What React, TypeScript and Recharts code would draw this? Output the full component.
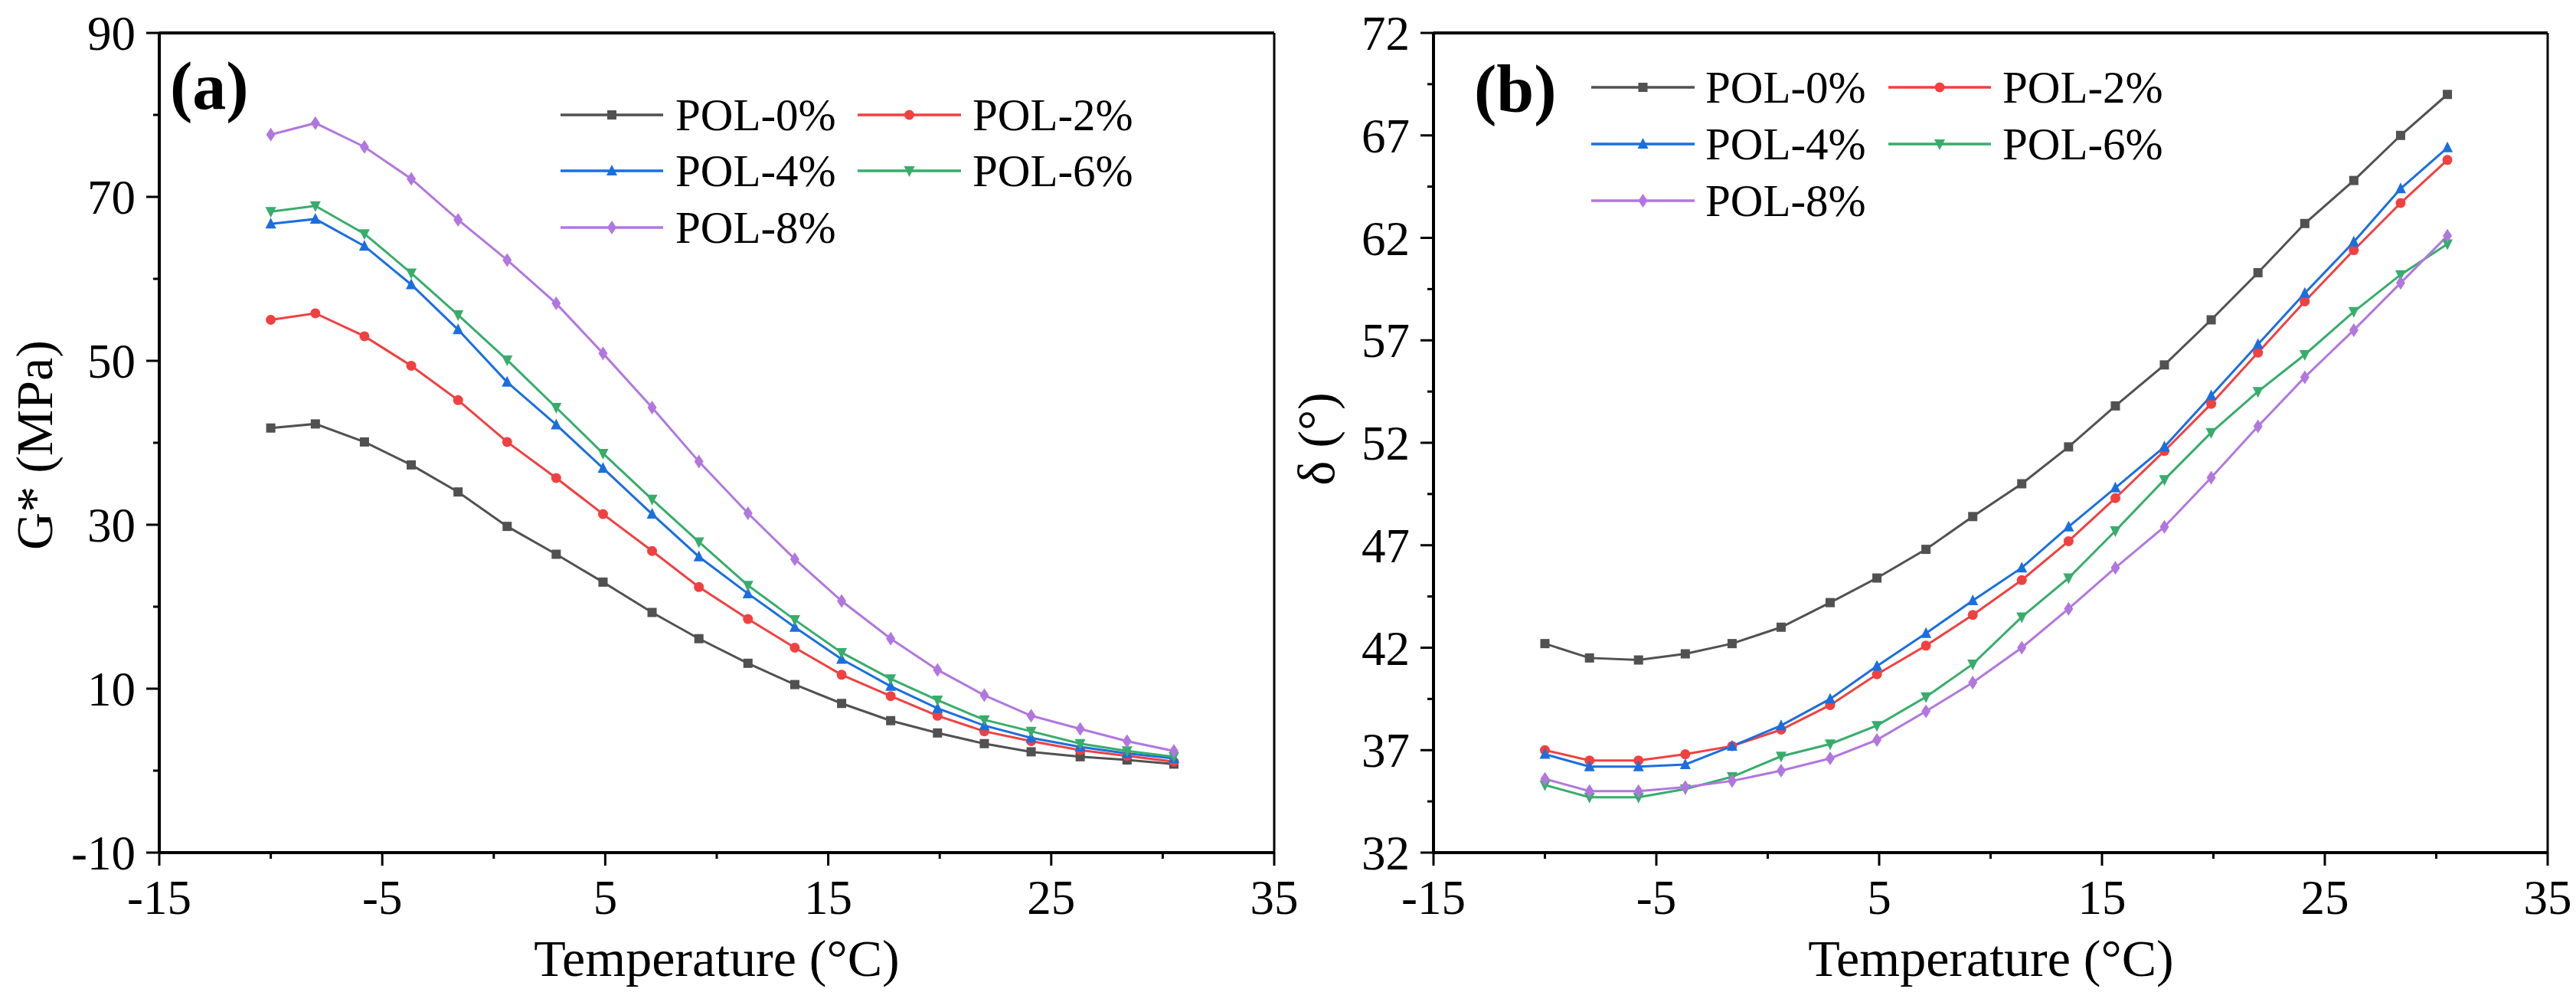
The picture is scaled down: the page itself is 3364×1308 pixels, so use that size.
import React from 'react';
import { LineChart, Line, XAxis, YAxis, ReferenceLine } from 'recharts';

const temps = [-10, -8, -5.8, -3.7, -1.6, 0.6, 2.8, 4.9, 7.1, 9.2, 11.4, 13.5, 15.6, 17.8, 19.9, 22.0, 24.1, 26.3, 28.4, 30.5];

// (a) complex modulus G* (MPa)
const g0 = [41.8, 42.3, 40.1, 37.3, 34.0, 29.8, 26.4, 23.0, 19.3, 16.1, 13.1, 10.5, 8.2, 6.1, 4.6, 3.3, 2.3, 1.7, 1.3, 0.8];
const g2 = [55.0, 55.8, 53.0, 49.4, 45.2, 40.1, 35.7, 31.3, 26.8, 22.4, 18.5, 15.0, 11.7, 9.1, 6.7, 4.8, 3.6, 2.5, 1.8, 1.1];
const g4 = [66.7, 67.3, 64.0, 59.3, 53.8, 47.4, 42.2, 36.9, 31.3, 26.1, 21.6, 17.5, 13.6, 10.3, 7.6, 5.5, 4.0, 2.9, 2.1, 1.5];
const g6 = [68.2, 68.9, 65.5, 60.7, 55.6, 50.1, 44.3, 38.7, 33.1, 27.9, 22.6, 18.4, 14.4, 11.2, 8.6, 6.2, 4.8, 3.3, 2.4, 1.7];
const g8 = [77.6, 79.0, 76.1, 72.2, 67.2, 62.3, 57.0, 50.9, 44.3, 37.7, 31.4, 25.8, 20.7, 16.1, 12.3, 9.2, 6.7, 5.1, 3.6, 2.4];

// (b) phase angle δ (°)
const d0 = [42.2, 41.5, 41.4, 41.7, 42.2, 43.0, 44.2, 45.4, 46.8, 48.4, 50.0, 51.8, 53.8, 55.8, 58.0, 60.3, 62.7, 64.8, 67.0, 69.0];
const d2 = [37.0, 36.5, 36.5, 36.8, 37.2, 38.0, 39.2, 40.7, 42.1, 43.6, 45.3, 47.2, 49.3, 51.6, 53.9, 56.4, 58.9, 61.4, 63.7, 65.8];
const d4 = [36.8, 36.2, 36.2, 36.3, 37.2, 38.2, 39.5, 41.1, 42.7, 44.3, 45.9, 47.9, 49.8, 51.8, 54.3, 56.8, 59.3, 61.8, 64.4, 66.4];
const d6 = [35.3, 34.7, 34.7, 35.1, 35.7, 36.7, 37.3, 38.2, 39.6, 41.2, 43.5, 45.4, 47.7, 50.2, 52.5, 54.5, 56.3, 58.4, 60.2, 61.7];
const d8 = [35.6, 35.0, 35.0, 35.2, 35.5, 36.0, 36.6, 37.5, 38.9, 40.3, 42.0, 43.9, 45.9, 47.9, 50.3, 52.8, 55.2, 57.5, 59.8, 62.1];

const seriesNames = ['POL-0%', 'POL-2%', 'POL-4%', 'POL-6%', 'POL-8%'];
const seriesKeys = ['s0', 's2', 's4', 's6', 's8'];
const colors = ['#515151', '#F14040', '#1A6FDF', '#37AD6B', '#B177DE'];
const shapes = ['square', 'circle', 'up', 'down', 'diamond'];

const xTicks = [-15, -10, -5, 0, 5, 10, 15, 20, 25, 30, 35];
const xMajor = [-15, -5, 5, 15, 25, 35];
const gTicks = [-10, 0, 10, 20, 30, 40, 50, 60, 70, 80, 90];
const gMajor = [-10, 10, 30, 50, 70, 90];
const dTicks = [32, 34.5, 37, 39.5, 42, 44.5, 47, 49.5, 52, 54.5, 57, 59.5, 62, 64.5, 67, 69.5, 72];
const dMajor = [32, 37, 42, 47, 52, 57, 62, 67, 72];

const FONT = '"Liberation Serif", "Times New Roman", serif';

const buildRows = (cols: number[][]) =>
  temps.map((t, i) => {
    const row: any = { t };
    seriesKeys.forEach((k, j) => (row[k] = cols[j][i]));
    return row;
  });

const gRows = buildRows([g0, g2, g4, g6, g8]);
const dRows = buildRows([d0, d2, d4, d6, d8]);

const Marker = ({ shape, x, y, color }: { shape: string; x: number; y: number; color: string }) => {
  if (shape === 'square') return <rect x={x - 6} y={y - 6} width={12} height={12} fill={color} />;
  if (shape === 'circle') return <circle cx={x} cy={y} r={6.5} fill={color} />;
  if (shape === 'up') return <polygon points={`${x},${y - 8} ${x - 7},${y + 6} ${x + 7},${y + 6}`} fill={color} />;
  if (shape === 'down') return <polygon points={`${x},${y + 8} ${x - 7},${y - 6} ${x + 7},${y - 6}`} fill={color} />;
  return <polygon points={`${x},${y - 9} ${x + 6},${y} ${x},${y + 9} ${x - 6},${y}`} fill={color} />;
};

const makeDot = (shape: string, color: string) => (p: any) => {
  if (p.cx == null || p.cy == null) return <g key={p.index} />;
  return (
    <g key={p.index}>
      <Marker shape={shape} x={p.cx} y={p.cy} color={color} />
    </g>
  );
};

const makeXTick = (majors: number[]) => (p: any) => {
  const { x, y, payload } = p;
  const major = majors.includes(payload.value);
  return (
    <g>
      <line x1={x} x2={x} y1={y} y2={y + (major ? 17 : 8)} stroke="#000" strokeWidth={3} />
      {major && (
        <text x={x} y={y + 80} textAnchor="middle" fontSize={63} fontFamily={FONT} fill="#000">
          {payload.value}
        </text>
      )}
    </g>
  );
};

const makeYTick = (majors: number[]) => (p: any) => {
  const { x, y, payload } = p;
  const major = majors.includes(payload.value);
  return (
    <g>
      <line x1={x - (major ? 17 : 8)} x2={x} y1={y} y2={y} stroke="#000" strokeWidth={3} />
      {major && (
        <text x={x - 31} y={y} dy="0.35em" textAnchor="end" fontSize={63} fontFamily={FONT} fill="#000">
          {payload.value}
        </text>
      )}
    </g>
  );
};

interface PanelProps {
  left: number;
  width: number;
  yWidth: number;
  right: number;
  rows: any[];
  domain: [number, number];
  ticks: number[];
  majors: number[];
}

const Panel = ({ left, width, yWidth, right, rows, domain, ticks, majors }: PanelProps) => (
  <div style={{ position: 'absolute', left, top: 0 }}>
    <LineChart width={width} height={1308} data={rows} margin={{ top: 43, right, bottom: 0, left: 0 }}>
      <XAxis
        dataKey="t"
        type="number"
        domain={[-15, 35]}
        ticks={xTicks}
        interval={0}
        height={195}
        tickSize={0}
        tickMargin={0}
        tickLine={false}
        axisLine={{ stroke: '#000', strokeWidth: 4 }}
        tick={makeXTick(xMajor)}
      />
      <YAxis
        type="number"
        domain={domain}
        ticks={ticks}
        interval={0}
        width={yWidth}
        tickSize={0}
        tickMargin={0}
        tickLine={false}
        axisLine={{ stroke: '#000', strokeWidth: 4 }}
        tick={makeYTick(majors)}
      />
      <ReferenceLine y={domain[1]} stroke="#000" strokeWidth={4} />
      <ReferenceLine x={35} stroke="#000" strokeWidth={3} />
      {seriesKeys.map((k, i) => (
        <Line
          key={k}
          dataKey={k}
          type="linear"
          stroke={colors[i]}
          strokeWidth={3}
          dot={makeDot(shapes[i], colors[i])}
          activeDot={false}
          isAnimationActive={false}
        />
      ))}
    </LineChart>
  </div>
);

interface LegendPos {
  cols: { lineX1: number; lineX2: number; textX: number }[];
  rows: number[];
}

const legendA: LegendPos = {
  cols: [
    { lineX1: 732, lineX2: 866, textX: 882 },
    { lineX1: 1120, lineX2: 1255, textX: 1270 },
  ],
  rows: [150, 223, 297],
};

const legendB: LegendPos = {
  cols: [
    { lineX1: 2078, lineX2: 2213, textX: 2227 },
    { lineX1: 2466, lineX2: 2600, textX: 2615 },
  ],
  rows: [114, 188, 262],
};

const LegendBlock = ({ pos }: { pos: LegendPos }) => (
  <g>
    {seriesNames.map((name, i) => {
      const col = pos.cols[i % 2];
      const y = pos.rows[Math.floor(i / 2)];
      const mid = (col.lineX1 + col.lineX2) / 2;
      return (
        <g key={name}>
          <line x1={col.lineX1} x2={col.lineX2} y1={y} y2={y} stroke={colors[i]} strokeWidth={3.5} />
          <Marker shape={shapes[i]} x={mid} y={y} color={colors[i]} />
          <text x={col.textX} y={y + 20} fontSize={59} fontFamily={FONT} fill="#000">
            {name}
          </text>
        </g>
      );
    })}
  </g>
);

export default function App() {
  return (
    <div style={{ position: 'absolute', left: 0, top: 0, width: 3364, height: 1308, background: '#fff' }}>
      <Panel left={0} width={1730} yWidth={208} right={66} rows={gRows} domain={[-10, 90]} ticks={gTicks} majors={gMajor} />
      <Panel left={1680} width={1684} yWidth={192} right={37} rows={dRows} domain={[32, 72]} ticks={dTicks} majors={dMajor} />
      <svg width={3364} height={1308} style={{ position: 'absolute', left: 0, top: 0, pointerEvents: 'none' }}>
        <text x={222} y={142} fontSize={88} fontWeight="bold" fontFamily={FONT} fill="#000">(a)</text>
        <text x={1925} y={146} fontSize={88} fontWeight="bold" fontFamily={FONT} fill="#000">(b)</text>
        <LegendBlock pos={legendA} />
        <LegendBlock pos={legendB} />
        <text x={936} y={1274} textAnchor="middle" fontSize={68} fontFamily={FONT} fill="#000">Temperature (°C)</text>
        <text x={2600} y={1274} textAnchor="middle" fontSize={68} fontFamily={FONT} fill="#000">Temperature (°C)</text>
        <text transform="translate(68,581) rotate(-90)" textAnchor="middle" fontSize={68} fontFamily={FONT} fill="#000">G* (MPa)</text>
        <text transform="translate(1742,573) rotate(-90)" textAnchor="middle" fontSize={68} fontFamily={FONT} fill="#000">δ (°)</text>
      </svg>
    </div>
  );
}
